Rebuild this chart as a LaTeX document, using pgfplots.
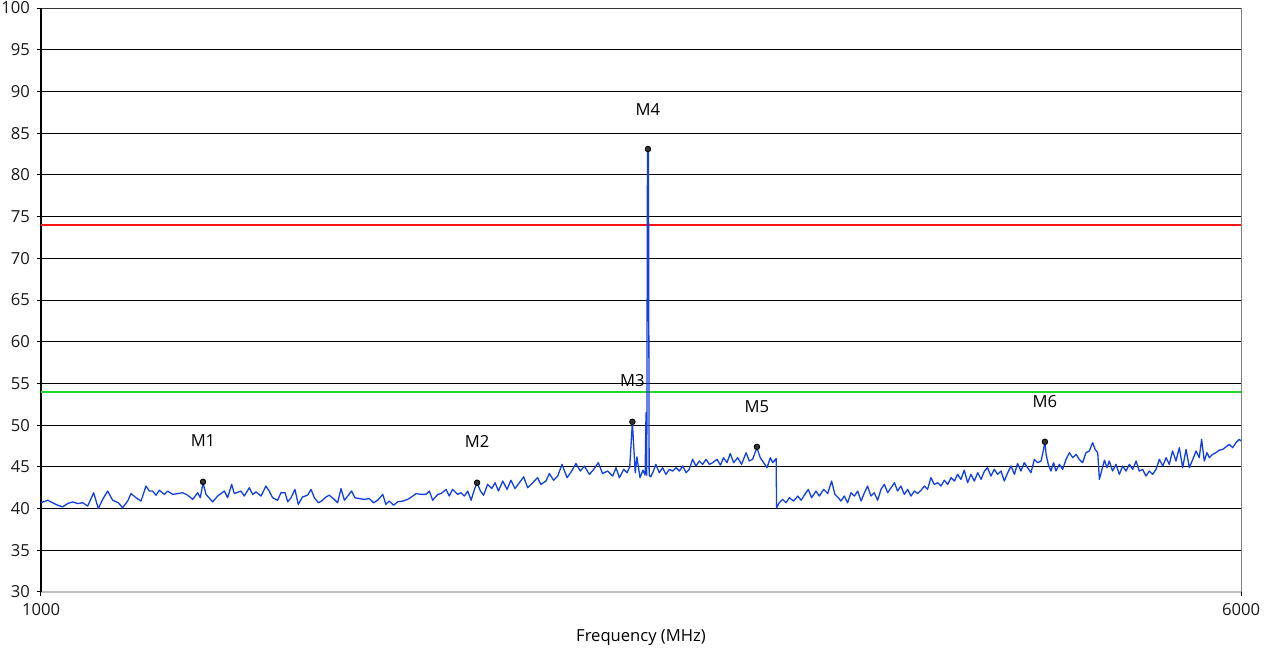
\documentclass[border=0pt]{standalone}
\usepackage{pgfplots}
\pgfplotsset{compat=1.18}
\usepackage{fontspec}
\setmainfont{Open Sans}
\definecolor{trace}{RGB}{18,64,228}
\definecolor{lim1}{RGB}{250,20,20}
\definecolor{lim2}{RGB}{30,215,40}
\begin{document}
\begin{tikzpicture}
\useasboundingbox (0,0) rectangle (633pt,327pt);
\begin{axis}[
  at={(20.5pt,31pt)}, anchor=south west,
  width=600pt, height=292pt, scale only axis,
  xmin=1000, xmax=6000, ymin=30, ymax=100,
  xtick={1000,6000}, ytick={30,35,...,100},
  ymajorgrids, grid style={black, line width=0.5pt},
  axis line style={draw=none},
  tick align=outside, major tick length=2pt,
  tick style={black, line width=0.5pt},
  xtick pos=bottom, ytick pos=left,
  /pgf/number format/assume math mode=true,
  /pgf/number format/1000 sep={},
  tick label style={font=\fontsize{8.3}{10}\selectfont, text=black!90},
  xlabel={Frequency (MHz)},
  xlabel style={font=\fontsize{8.3}{10}\selectfont, at={(axis description cs:0.5,0)}, anchor=center, yshift=-23pt},
  clip=false,
]
\draw[black!25, line width=0.6pt] (rel axis cs:0,0) -- (rel axis cs:1,0);
\draw[gray, line width=0.5pt] (rel axis cs:1,0) -- (rel axis cs:1,1);
\draw[black!80, line width=0.5pt] (rel axis cs:0,1) -- (rel axis cs:1,1);
\draw[black, line width=0.6pt] (rel axis cs:0,0) -- (rel axis cs:0,1);
\addplot[lim1, line width=1.1pt] coordinates {(1000,74) (6000,74)};
\addplot[lim2, line width=1.1pt] coordinates {(1000,54) (6000,54)};
\addplot[trace, line width=0.65pt, line join=round] coordinates {
(1000,40.7) (1027.8,41.0) (1048.6,40.7) (1069.4,40.4) (1090.3,40.2) (1111.1,40.6) (1131.9,40.8) (1152.8,40.6) (1173.6,40.7) (1194.4,40.3)
(1219.4,41.9) (1238.9,40.0) (1256.9,41.1) (1277.8,42.1) (1298.6,41.0) (1322.2,40.7) (1340.3,40.1) (1361.1,40.9) (1375,41.8) (1395.8,41.3)
(1416.7,40.9) (1437.5,42.7) (1451.4,42.1) (1465.3,42.1) (1479.2,41.6) (1493.1,42.2) (1513.9,41.7) (1527.8,42.1) (1548.6,41.7) (1569.4,41.8)
(1590.3,41.9) (1611.1,41.6) (1631.9,41.1) (1652.8,41.9) (1663.9,41.3) (1675,43.1) (1687.5,41.7) (1715.3,40.8) (1736.1,41.5) (1763.9,42.1)
(1777.8,41.3) (1794.4,42.9) (1805.6,41.8) (1833.3,42.1)
(1847,41.5) (1868,42.5) (1882,41.7) (1896,42.0) (1917,41.5) (1937,42.7) (1951,42.1) (1965,41.3) (1986,41.0) (2000,41.9)
(2017,41.9) (2028,40.8) (2042,41.3) (2058,42.3) (2072,40.5) (2090,41.4) (2111,41.6) (2125,42.3) (2139,41.3) (2156,40.7)
(2169,40.9) (2188,41.4) (2201,41.6) (2222,41.1) (2236,40.7) (2250,42.4) (2264,41.0) (2278,41.5) (2294,42.1) (2308,41.3)
(2326,41.2) (2347,41.1) (2368,41.2) (2386,40.7) (2403,41.0) (2424,41.7) (2437,40.5) (2451,40.9) (2469,40.4) (2486,40.8)
(2507,40.9) (2528,41.1) (2549,41.5) (2563,41.8) (2583,41.7) (2604,41.7) (2618,42.1) (2632,41.0) (2653,41.7) (2667,41.8)
(2688,42.3) (2701,41.5) (2715,42.3) (2736,41.7) (2750,41.9) (2764,41.5) (2778,42.1) (2792,41.0) (2806,42.3) (2817,43.1)
(2831,42.1) (2844,41.6) (2861,42.9) (2878,42.4) (2892,43.1) (2906,42.1) (2924,43.3) (2942,42.3) (2958,43.4) (2975,42.4)
(2993,43.1) (3011,43.8) (3028,42.5) (3049,43.1) (3069,43.7) (3083,42.9) (3104,43.3) (3118,44.2) (3136,43.4) (3153,43.9)
(3171,45.3) (3192,43.7) (3211,44.5) (3229,45.4) (3247,44.5) (3264,45.1) (3285,44.1) (3303,44.7) (3322,45.5) (3340,44.2)
(3361,44.5) (3382,43.9) (3396,44.9) (3410,43.7) (3428,44.7) (3442,44.3) (3453,45.0) (3464,50.3) (3476,44.3) (3483,46.2)
(3496,43.7) (3508,44.6) (3517,44.0) (3521,51.5) (3524,44.0) (3527,83.1) (3531,82.9) (3534,44.0) (3540,43.8)
(3549,44.3) (3562,45.3) (3576,44.3) (3590,44.9) (3604,44.1) (3618,44.7) (3632,44.5) (3646,44.9) (3660,44.5) (3674,45.1)
(3688,44.3) (3701,44.7) (3715,45.9) (3729,45.1) (3743,45.7) (3757,45.3) (3771,45.9) (3785,45.3) (3799,45.5) (3817,45.9)
(3831,45.2) (3844,46.1) (3858,45.5) (3872,46.6) (3886,45.5) (3903,46.1) (3919,45.3) (3938,46.7) (3951,45.7) (3965,45.9)
(3983,47.3) (3997,46.1) (4011,45.5) (4025,44.9) (4039,46.1) (4049,45.5) (4063,46.0) (4065,40.1) (4076,40.7) (4090,41.1)
(4104,40.7) (4118,41.3) (4136,40.9) (4153,41.5) (4167,41.0) (4183,41.7) (4197,42.3) (4211,41.3) (4229,42.1) (4243,41.5)
(4261,42.3) (4278,41.8) (4294,43.3) (4308,41.7) (4322,41.3)
(4333,40.9) (4347,41.5) (4361,40.7) (4375,41.9) (4389,41.5) (4403,42.1) (4417,40.9) (4431,41.9) (4444,42.7) (4458,41.5)
(4472,41.9) (4486,41.0) (4500,42.3) (4514,42.9) (4528,41.9) (4542,42.5) (4556,43.1) (4569,42.1) (4583,42.7) (4597,41.7)
(4611,42.3) (4625,41.5) (4639,42.1) (4653,41.8) (4667,42.2) (4681,42.7) (4694,42.3) (4708,43.7) (4722,42.9) (4736,43.1)
(4750,42.7) (4764,43.4) (4778,42.9) (4792,43.7) (4806,43.3) (4819,44.1) (4833,43.5) (4847,44.6) (4861,43.1) (4875,44.1)
(4889,43.3) (4903,44.3) (4917,43.5) (4931,44.5) (4944,44.9) (4958,43.9) (4972,44.7) (4986,44.1) (5000,44.5) (5014,43.3)
(5028,44.3) (5042,45.1) (5056,44.1) (5069,45.4) (5083,44.5) (5097,45.5) (5111,44.9) (5125,44.3) (5139,45.9) (5153,45.5)
(5167,45.7) (5183,47.9) (5188,46.5) (5197,45.3) (5208,44.5) (5219,45.5) (5229,44.5) (5243,45.3) (5257,44.7) (5271,45.9)
(5285,46.7) (5299,46.1) (5313,46.5) (5326,45.9) (5340,45.5) (5354,46.7) (5368,46.9) (5382,47.9) (5392,47.1) (5403,46.7)
(5410,43.5) (5419,44.5) (5431,45.8) (5442,44.9) (5451,45.7) (5465,44.5) (5479,45.3) (5493,44.1) (5507,45.1) (5521,44.5)
(5535,45.3) (5549,44.7) (5563,45.7) (5576,44.5) (5590,44.7) (5604,43.9) (5618,44.5) (5632,44.1) (5646,44.7) (5660,45.9)
(5674,45.1) (5688,46.1) (5701,45.3) (5715,46.9) (5729,45.7) (5743,47.3) (5757,44.9) (5771,47.1) (5785,44.9) (5799,45.9)
(5813,46.9) (5826,46.1) (5836,48.3) (5847,45.7) (5858,46.7) (5868,46.1) (5882,46.5) (5896,46.7) (5910,47.0) (5924,47.1)
(5938,47.4) (5951,47.7) (5965,47.3) (5979,47.9) (5993,48.3) (6000,48.1)
};
\addplot[only marks, mark=*, mark size=1.4pt, mark options={fill=black!80, draw=black}] coordinates {
(1675,43.2) (2817,43.1) (3464,50.4) (3529,83.1) (3983,47.4) (5183,48.0)
};
\node[font=\fontsize{8.3}{10}\selectfont] at (axis cs:1675,48.2) {M1};
\node[font=\fontsize{8.3}{10}\selectfont] at (axis cs:2817,48.0) {M2};
\node[font=\fontsize{8.3}{10}\selectfont] at (axis cs:3464,55.3) {M3};
\node[font=\fontsize{8.3}{10}\selectfont] at (axis cs:3529,87.8) {M4};
\node[font=\fontsize{8.3}{10}\selectfont] at (axis cs:3983,52.2) {M5};
\node[font=\fontsize{8.3}{10}\selectfont] at (axis cs:5183,52.8) {M6};
\end{axis}
\end{tikzpicture}
\end{document}
